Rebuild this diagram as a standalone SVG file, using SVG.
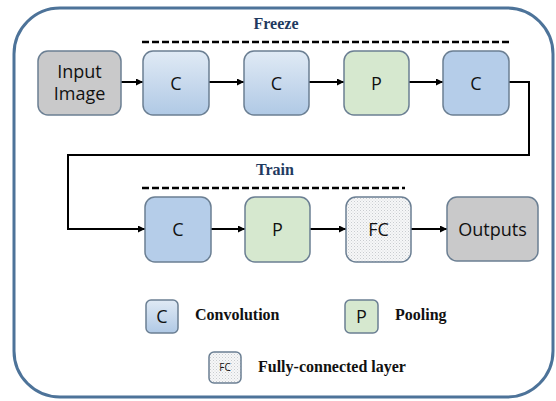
<svg xmlns="http://www.w3.org/2000/svg" width="556" height="401" viewBox="0 0 556 401">
  <defs>
    <linearGradient id="convGrad" x1="0" y1="0" x2="0" y2="1">
      <stop offset="0" stop-color="#e0eaf5"/>
      <stop offset="1" stop-color="#b0c9e5"/>
    </linearGradient>
    <pattern id="stipple" width="3" height="3" patternUnits="userSpaceOnUse">
      <rect width="3" height="3" fill="#f6f7f8"/>
      <rect x="0" y="0" width="1" height="1" fill="#c9cccf"/>
      <rect x="1.5" y="1.5" width="1" height="1" fill="#d6d8da"/>
    </pattern>
    <marker id="arrow" viewBox="0 0 10 10" refX="10" refY="5" markerWidth="7" markerHeight="7" markerUnits="userSpaceOnUse" orient="auto">
      <path d="M0,0 L10,5 L0,10 Z" fill="#000"/>
    </marker>
    <style>
      .box { stroke: #6b7f93; stroke-width: 1.5; }
      .gray { fill: #c9c9ca; }
      .conv { fill: url(#convGrad); }
      .convflat { fill: #b5cde9; }
      .pool { fill: #d6e8cf; }
      .fc { fill: url(#stipple); }
      .lbl { font-family: "Open Sans", "Liberation Sans", sans-serif; font-size: 18px; fill: #111; text-anchor: middle; }
      .small { font-size: 10px; }
      .head { font-family: "Liberation Serif", serif; font-weight: bold; font-size: 16px; fill: #1f3a60; text-anchor: middle; }
      .legend { font-family: "Liberation Serif", serif; font-weight: bold; font-size: 16px; fill: #111; }
      .dash { stroke: #000; stroke-width: 2.5; stroke-dasharray: 7 3; fill: none; }
      .conn { stroke: #000; stroke-width: 2; fill: none; }
    </style>
  </defs>

  <!-- frame -->
  <rect x="14" y="8" width="539" height="389" rx="46" ry="46" fill="#fff" stroke="#4d7399" stroke-width="3"/>

  <!-- group headings -->
  <text class="head" x="276" y="29">Freeze</text>
  <line class="dash" x1="142" y1="42" x2="509" y2="42"/>
  <text class="head" x="275" y="175">Train</text>
  <line class="dash" x1="142" y1="188" x2="405" y2="188"/>

  <!-- connectors -->
  <g id="connectors">
    <line class="conn" x1="121" y1="82" x2="143" y2="82" marker-end="url(#arrow)"/>
    <line class="conn" x1="209" y1="82" x2="244" y2="82" marker-end="url(#arrow)"/>
    <line class="conn" x1="309" y1="82" x2="344" y2="82" marker-end="url(#arrow)"/>
    <line class="conn" x1="409" y1="82" x2="443" y2="82" marker-end="url(#arrow)"/>
    <polyline class="conn" points="509,82 529,82 529,155 68,155 68,229 145,229" marker-end="url(#arrow)"/>
    <line class="conn" x1="211" y1="229" x2="245" y2="229" marker-end="url(#arrow)"/>
    <line class="conn" x1="310" y1="229" x2="346" y2="229" marker-end="url(#arrow)"/>
    <line class="conn" x1="411" y1="229" x2="447" y2="229" marker-end="url(#arrow)"/>
  </g>

  <!-- top row -->
  <g id="input">
    <rect class="box gray" x="38" y="51" width="83" height="64" rx="10"/>
    <text class="lbl" x="79.5" y="78">Input</text>
    <text class="lbl" x="79.5" y="100">Image</text>
  </g>
  <g id="conv1">
    <rect class="box conv" x="143" y="51" width="66" height="64" rx="10"/>
    <text class="lbl" x="176" y="90">C</text>
  </g>
  <g id="conv2">
    <rect class="box conv" x="244" y="51" width="65" height="64" rx="10"/>
    <text class="lbl" x="276.5" y="90">C</text>
  </g>
  <g id="pool1">
    <rect class="box pool" x="344" y="51" width="65" height="64" rx="10"/>
    <text class="lbl" x="376.5" y="90">P</text>
  </g>
  <g id="conv3">
    <rect class="box convflat" x="443" y="51" width="66" height="64" rx="10"/>
    <text class="lbl" x="476" y="90">C</text>
  </g>

  <!-- bottom row -->
  <g id="conv4">
    <rect class="box convflat" x="145" y="197" width="66" height="65" rx="10"/>
    <text class="lbl" x="178" y="236">C</text>
  </g>
  <g id="pool2">
    <rect class="box pool" x="245" y="197" width="65" height="65" rx="10"/>
    <text class="lbl" x="277.5" y="236">P</text>
  </g>
  <g id="fc">
    <rect class="box fc" x="346" y="197" width="65" height="65" rx="10"/>
    <text class="lbl" x="378.5" y="236">FC</text>
  </g>
  <g id="outputs">
    <rect class="box gray" x="447" y="197" width="91" height="64" rx="10"/>
    <text class="lbl" x="492.5" y="236">Outputs</text>
  </g>

  <!-- legend -->
  <g id="legend-conv">
    <rect class="box conv" x="146" y="300" width="32" height="33" rx="5"/>
    <text class="lbl" x="162" y="323">C</text>
    <text class="legend" x="195" y="320">Convolution</text>
  </g>
  <g id="legend-pool">
    <rect class="box pool" x="345" y="300" width="33" height="33" rx="5"/>
    <text class="lbl" x="361.5" y="323">P</text>
    <text class="legend" x="395" y="320">Pooling</text>
  </g>
  <g id="legend-fc">
    <rect class="box fc" x="209" y="352" width="32" height="31" rx="5"/>
    <text class="lbl small" x="225" y="371">FC</text>
    <text class="legend" x="258" y="372">Fully-connected layer</text>
  </g>
</svg>
